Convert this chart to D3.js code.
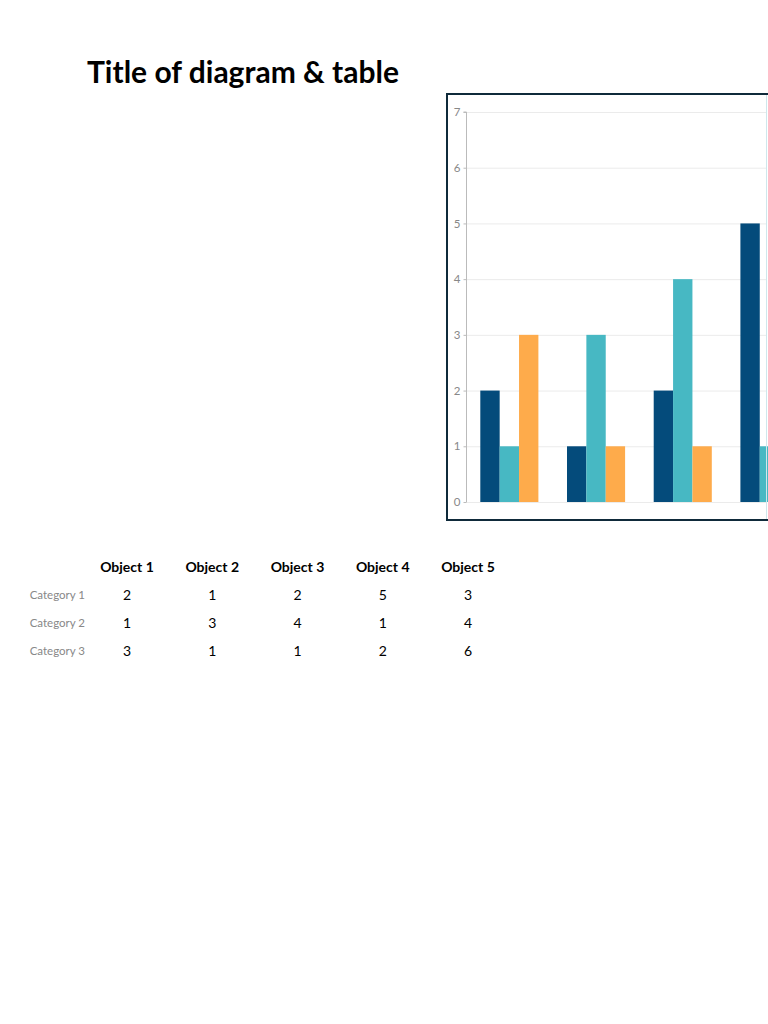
<!DOCTYPE html>
<html>
<head>
<meta charset="utf-8">
<script src="https://cdn.jsdelivr.net/npm/d3@7"></script>
<style>
  html, body { margin: 0; padding: 0; background: #fff; overflow: hidden; }
  svg { display: block; font-family: Lato, "Open Sans", sans-serif; }
  .grid line { stroke: #ebebeb; }
  .y-axis text { fill: #888; font-size: 11.5px; font-family: Lato, "Open Sans", sans-serif; }
  .y-axis path, .y-axis line { stroke: #bbb; }
</style>
</head>
<body>
<svg id="chart"></svg>
<script>
// chart data
const objects = ['Object 1', 'Object 2', 'Object 3', 'Object 4', 'Object 5'];
const categories = ['Category 1', 'Category 2', 'Category 3'];
const category1 = [2, 1, 2, 5, 3];
const category2 = [1, 3, 4, 1, 4];
const category3 = [3, 1, 1, 2, 6];
const yTicks = [0, 1, 2, 3, 4, 5, 6, 7];
const colors = ['#044b7b', '#47b8c3', '#feab4b'];

const series = [category1, category2, category3];

const W = 768, H = 1024;
const svg = d3.select('#chart').attr('width', W).attr('height', H);

// Title
svg.append('text')
  .attr('x', 87).attr('y', 83)
  .attr('font-size', 30).attr('font-weight', 700)
  .attr('fill', '#000')
  .text('Title of diagram & table');

// Chart box (runs off the right edge of the page)
svg.append('rect')
  .attr('x', 447).attr('y', 94)
  .attr('width', 500).attr('height', 426)
  .attr('fill', 'none')
  .attr('stroke', '#0f2a3a').attr('stroke-width', 2);

const plot = { left: 466, top: 112, bottom: 502 };

const y = d3.scaleLinear().domain([0, 7]).range([plot.bottom, plot.top]);
const x0 = d3.scaleBand().domain(objects)
  .range([plot.left, plot.left + 433.5])
  .paddingInner(0.33).paddingOuter(0.165);
const x1 = d3.scaleBand().domain(d3.range(categories.length))
  .range([0, x0.bandwidth()]);

// gridlines
svg.append('g').attr('class', 'grid')
  .selectAll('line').data(yTicks).join('line')
  .attr('x1', plot.left).attr('x2', 766)
  .attr('y1', d => y(d) + 0.5).attr('y2', d => y(d) + 0.5);

// y axis
const yAxis = svg.append('g').attr('class', 'y-axis')
  .attr('transform', `translate(${plot.left + 0.5},0)`)
  .call(d3.axisLeft(y).tickValues(yTicks).tickFormat(d3.format('d'))
    .tickSize(3).tickPadding(3));
yAxis.select('.domain').attr('d', `M-3,${plot.top}H0V${plot.bottom}`);

// bars
const groups = svg.append('g').selectAll('g').data(objects).join('g')
  .attr('transform', d => `translate(${x0(d)},0)`);

groups.selectAll('rect')
  .data((d, i) => series.map((s, k) => ({ k, v: s[i] })))
  .join('rect')
  .attr('x', d => x1(d.k))
  .attr('width', x1.bandwidth())
  .attr('y', d => y(d.v))
  .attr('height', d => y(0) - y(d.v))
  .attr('fill', d => colors[d.k]);

// faint right edge line of the frame
svg.append('line')
  .attr('x1', 766.5).attr('x2', 766.5).attr('y1', 95).attr('y2', 519)
  .attr('stroke', '#cfe7ec').attr('stroke-width', 1);

// table
const colX = d3.scalePoint().domain(objects).range([127, 468]);
const rowY = d3.scalePoint().domain(categories).range([600, 656]);

svg.append('g').selectAll('text').data(objects).join('text')
  .attr('x', d => colX(d)).attr('y', 572)
  .attr('text-anchor', 'middle')
  .attr('font-size', 14).attr('font-weight', 700).attr('fill', '#000')
  .text(d => d);

svg.append('g').selectAll('text').data(categories).join('text')
  .attr('x', 85).attr('y', d => rowY(d) - 1)
  .attr('text-anchor', 'end')
  .attr('font-size', 11.5).attr('fill', '#888')
  .text(d => d);

categories.forEach((c, k) => {
  svg.append('g').selectAll('text').data(series[k]).join('text')
    .attr('x', (d, i) => colX(objects[i])).attr('y', rowY(c))
    .attr('text-anchor', 'middle')
    .attr('font-size', 14).attr('fill', '#000')
    .text(d => d);
});
</script>
</body>
</html>
